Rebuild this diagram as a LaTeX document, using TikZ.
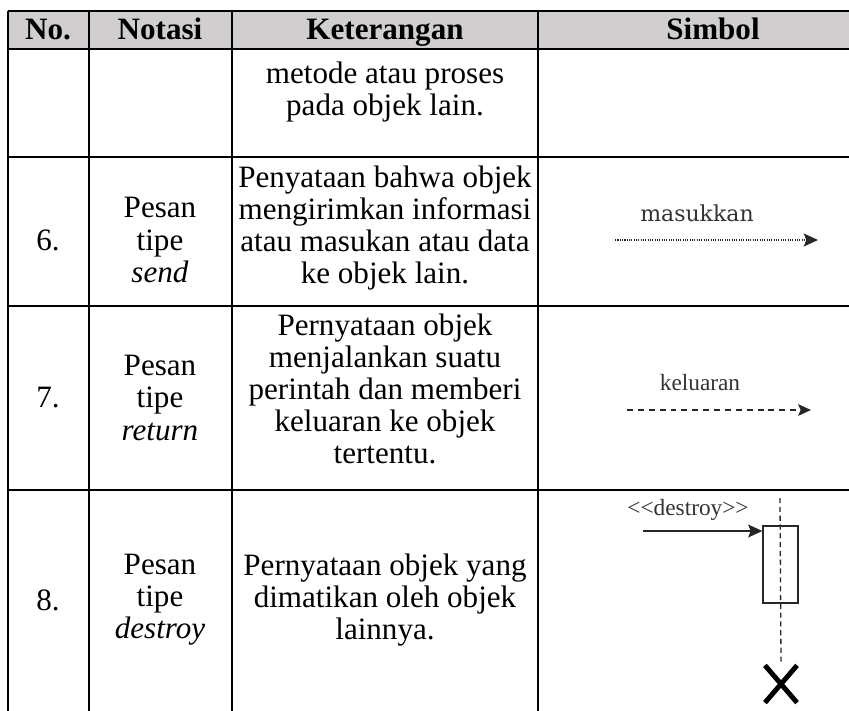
\documentclass[tikz,border=0pt]{standalone}
\usepackage{fontspec}
\setmainfont{Liberation Serif}
\newfontfamily\slabfont{DejaVu Serif}
\usepackage{tikz}
\usetikzlibrary{arrows.meta, positioning, calc, shapes.misc}
\definecolor{HeadGray}{HTML}{D0CECE}
\definecolor{SymText}{HTML}{333333}

\begin{document}
\begin{tikzpicture}[x=0.386pt, y=-0.386pt,
    rule/.style={line width=1.15pt},
    cell/.style={align=center, inner sep=0pt, font=\fontsize{12}{12.4}\selectfont},
    headcell/.style={cell, anchor=base, font=\fontsize{12}{12.4}\selectfont\bfseries},
    symlabel/.style={inner sep=0pt, text=SymText, font=\fontsize{9}{10}\selectfont},
    symline/.style={line width=0.5pt, draw=black!85}]
\clip (0,0) rectangle (849,711);

% header band and table rules
\fill[HeadGray] (8,11) rectangle (900,49);
\foreach \yy in {11,49,157,306,490}
    \draw[rule] (8,\yy) -- (900,\yy);
\foreach \xx in {8,89,232,538}
    \draw[rule] (\xx,11) -- (\xx,720);

% header
\node[headcell] (hNo)   at (48,40)  {No.};
\node[headcell] (hNot)  at (160,40) {Notasi};
\node[headcell] (hKet)  at (385,40) {Keterangan};
\node[headcell] (hSim)  at (713,40) {Simbol};

% continued row
\node[cell] (ket5) at (385,92) {metode atau proses\\pada objek lain.};

% row 6
\node[cell] (no6)  at (48,240)  {6.};
\node[cell] (not6) at (160,240) {Pesan\\tipe\\\textit{send}};
\node[cell] (ket6) at (385,228) {Penyataan bahwa objek\\mengirimkan informasi\\atau masukan atau data\\ke objek lain.};

% row 7
\node[cell] (no7)  at (48,398)  {7.};
\node[cell] (not7) at (160,398) {Pesan\\tipe\\\textit{return}};
\node[cell] (ket7) at (385,389) {Pernyataan objek\\menjalankan suatu\\perintah dan memberi\\keluaran ke objek\\tertentu.};

% row 8
\node[cell] (no8)  at (48,600)  {8.};
\node[cell] (not8) at (160,600) {Pesan\\tipe\\\textit{destroy}};
\node[cell] (ket8) at (385,600) {Pernyataan objek yang\\dimatikan oleh objek\\lainnya.};

% symbol: send
\node[symlabel, font=\slabfont\fontsize{8.5}{9}\selectfont] (lblSend) at (697,213) {masukkan};
\coordinate (sendA) at (615,240);
\coordinate (sendB) at (818,240);
\draw[symline, dash pattern=on 0.45pt off 0.45pt,
      -{Stealth[length=5.5pt, width=5pt, inset=1pt]}] (sendA) -- (sendB);

% symbol: return
\node[symlabel] (lblRet) at (700,383) {keluaran};
\coordinate (retA) at (627,410);
\coordinate (retB) at (811,410);
\draw[symline, dash pattern=on 2.3pt off 1.9pt,
      -{Stealth[length=5pt, width=4.5pt, inset=1pt]}] (retA) -- (retB);

% symbol: destroy
\node[symlabel] (lblDes) at (688,510) {<\kern0pt<destroy>\kern0pt>};
\node[cross out, draw, line width=1.9pt, minimum width=10.5pt, minimum height=12.5pt,
      inner sep=0pt] (kill) at (781,684) {};
\coordinate (lifeTop) at (780,498);
\draw[symline, dash pattern=on 2pt off 1.4pt] (lifeTop) -- (kill.north);
\node[draw, symline, minimum width=13.5pt, minimum height=29.7pt, inner sep=0pt]
    (act) at (780.5,564.5) {};
\coordinate (desA) at (643,531);
\draw[symline, -{Stealth[length=5.5pt, width=5pt, inset=1pt]}] (desA) -- (desA -| act.west);
\end{tikzpicture}
\end{document}
